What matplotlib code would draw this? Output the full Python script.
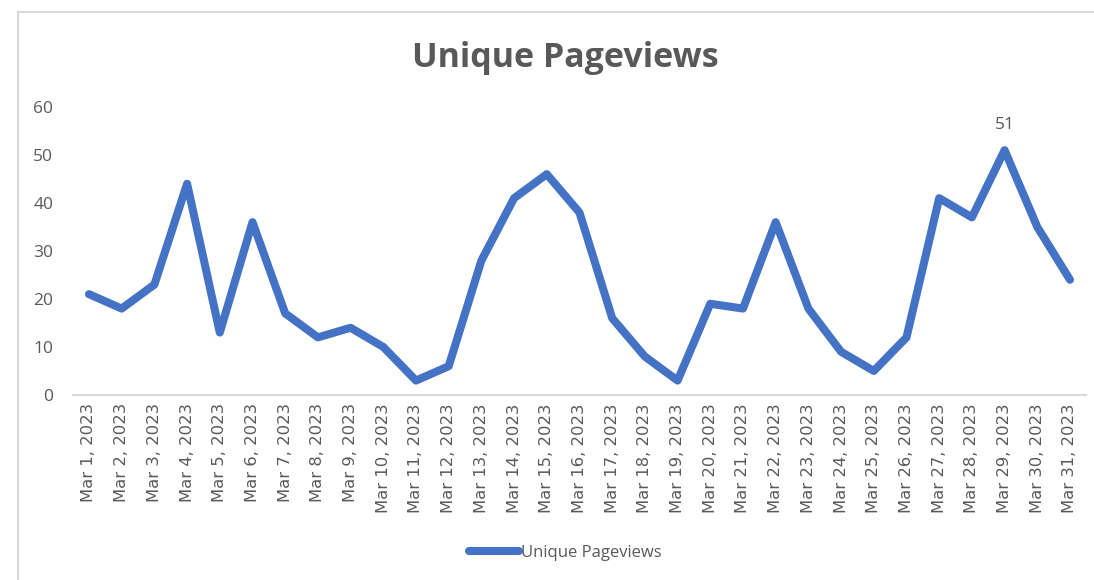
import matplotlib.pyplot as plt
from matplotlib.lines import Line2D

days = ['Mar %d, 2023' % d for d in range(1, 32)]
pageviews = [21, 18, 23, 44, 13, 36, 17, 12, 14, 10, 3, 6, 28, 41, 46,
             38, 16, 8, 3, 19, 18, 36, 18, 9, 5, 12, 41, 37, 51, 35, 24]
yticks = [0, 10, 20, 30, 40, 50, 60]

blue = '#4472C4'
grey = '#595959'

fig = plt.figure(figsize=(10.94, 5.8), dpi=100)
ax = fig.add_axes([0.0664, 0.319, 0.9266, 0.4966])

x = list(range(len(days)))
ax.plot(x, pageviews, color=blue, lw=5.8, solid_capstyle='round',
        solid_joinstyle='round', label='Unique Pageviews')

# label on the peak
i_max = pageviews.index(max(pageviews))
ax.annotate(str(pageviews[i_max]), (x[i_max], pageviews[i_max]),
            xytext=(0, 12), textcoords='offset points', ha='center',
            va='bottom', fontsize=12.5, color=grey, family='Open Sans')

ax.set_xlim(-0.5, len(days) - 0.5)
ax.set_ylim(0, 60)
ax.set_yticks(yticks)
ax.set_xticks(x)
ax.set_xticklabels(days, rotation=90, fontsize=11.8, color=grey,
                   family='DejaVu Sans')
for lab in ax.get_yticklabels():
    lab.set_fontfamily('Open Sans')
    lab.set_fontsize(12.5)
    lab.set_color(grey)
ax.tick_params(length=0, pad=6)
ax.tick_params(axis='y', pad=14)

for s in ['top', 'right', 'left']:
    ax.spines[s].set_visible(False)
ax.spines['bottom'].set_color('#D9D9D9')
ax.spines['bottom'].set_linewidth(1.5)

fig.text(0.517, 0.90, 'Unique Pageviews', ha='center', va='center',
         fontsize=24.5, fontweight='bold', color=grey, family='Open Sans')

leg = fig.legend(loc='center', bbox_to_anchor=(0.517, 0.047), frameon=False,
                 handlelength=3.0, handletextpad=0.1,
                 prop={'family': 'Open Sans', 'size': 12})
for t in leg.get_texts():
    t.set_color(grey)

# chart border (left and top visible)
fig.add_artist(Line2D([0.0165, 0.0165], [0, 0.979], color='#D9D9D9', lw=1.5))
fig.add_artist(Line2D([0.0165, 1.0], [0.979, 0.979], color='#D9D9D9', lw=1.5))

fig.savefig('out.png', dpi=100)
